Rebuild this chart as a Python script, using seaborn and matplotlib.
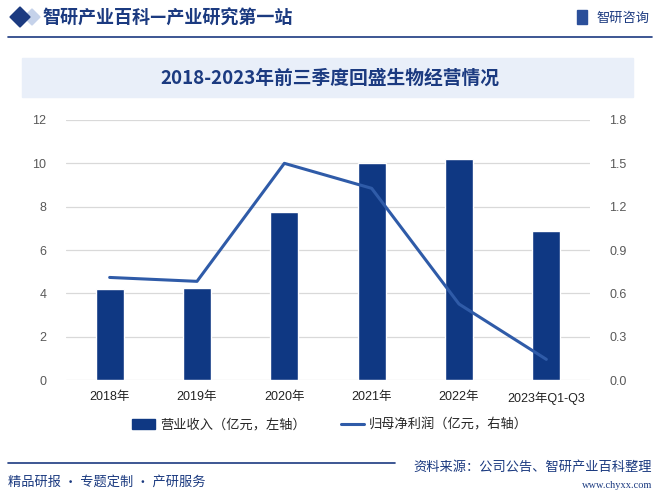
import matplotlib
matplotlib.use("Agg")
import matplotlib.pyplot as plt
import seaborn as sns
import pandas as pd
from matplotlib.patches import Rectangle, Polygon
from matplotlib.lines import Line2D

# 数据
years = ["2018年", "2019年", "2020年", "2021年", "2022年", "2023年Q1-Q3"]
revenue = [4.2, 4.25, 7.75, 10.0, 10.2, 6.88]      # 营业收入（亿元）
net_profit = [0.71, 0.683, 1.50, 1.327, 0.526, 0.143]  # 归母净利润（亿元）

left_ticks = [0, 2, 4, 6, 8, 10, 12]
right_ticks = [0.0, 0.3, 0.6, 0.9, 1.2, 1.5, 1.8]

bar_color = "#0f3883"
line_color = "#2f5ba8"
navy = "#1b3a80"
grey = "#595959"

sns.set_theme(style="white")
plt.rcParams['font.family'] = ['Liberation Sans', 'Noto Sans CJK SC', 'DejaVu Sans']
cjk = ['Noto Sans CJK SC', 'DejaVu Sans']

df = pd.DataFrame({"year": years, "revenue": revenue, "profit": net_profit})

fig = plt.figure(figsize=(6.61, 4.98), dpi=100)
W, H = 661, 498

def fx(x):
    return x / W

def fy(y):
    return 1 - y / H

# 页眉
fig.patches.append(Polygon([[fx(10), fy(17)], [fx(20), fy(7)], [fx(30), fy(17)], [fx(20), fy(27)]],
                           closed=True, transform=fig.transFigure, color=navy, zorder=2))
fig.patches.append(Polygon([[fx(24), fy(17)], [fx(32), fy(9)], [fx(40), fy(17)], [fx(32), fy(25)]],
                           closed=True, transform=fig.transFigure, color="#c5d2ea", zorder=1))
fig.text(fx(42), fy(18), "智研产业百科—产业研究第一站", fontsize=13, color=navy,
         fontweight="bold", family=cjk, ha="left", va="center", zorder=3)
fig.patches.append(Rectangle((fx(577), fy(24)), fx(10), 14 / H, transform=fig.transFigure,
                             color="#2b4f9a", zorder=2))
fig.text(fx(596), fy(18), "智研咨询", fontsize=9.5, color=navy, family=cjk,
         ha="left", va="center")
fig.lines.append(Line2D([fx(8), fx(652)], [fy(37), fy(37)], transform=fig.transFigure,
                        color=navy, lw=1.2))

# 标题框
fig.patches.append(Rectangle((fx(22), fy(97)), fx(611), 39 / H, transform=fig.transFigure,
                             color="#e9eff9", zorder=1))
fig.text(fx(330), fy(78), "2018-2023年前三季度回盛生物经营情况", fontsize=13.5, color=navy,
         fontweight="bold", family=cjk, ha="center", va="center", zorder=3)

# 图表
ax = fig.add_axes([fx(66), fy(380), fx(524), 260 / H])
sns.barplot(data=df, x="year", y="revenue", color=bar_color, width=0.32, saturation=1,
            ax=ax, zorder=2)
ax.set_ylim(0, 12)
ax.set_yticks(left_ticks)
ax.set_xlim(-0.5, len(years) - 0.5)
ax.grid(axis="y", color="#d9d9d9", lw=0.9, zorder=0)
ax.set_axisbelow(True)
for s in ax.spines.values():
    s.set_visible(False)
ax.set_xlabel("")
ax.set_ylabel("")
ax.tick_params(axis="y", length=0, labelsize=9, labelcolor=grey, pad=14)
ax.tick_params(axis="x", length=0, labelsize=9, labelcolor="#222222", pad=8)
ax.set_xticks([i + 0.5 for i in range(len(years) - 1)], minor=True)
ax.tick_params(axis="x", which="minor", length=5, color="#404040", width=0.8)
ax.patch.set_alpha(0)

ax2 = ax.twinx()
sns.lineplot(x=list(range(len(years))), y=net_profit, color=line_color, lw=2.2, sort=False,
             ax=ax2, zorder=3)
ax2.set_ylim(0, 1.8)
ax2.set_yticks(right_ticks)
ax2.set_yticklabels([f"{v:.1f}" for v in right_ticks])
ax2.set_xlim(-0.5, len(years) - 0.5)
for s in ax2.spines.values():
    s.set_visible(False)
ax2.tick_params(axis="y", length=0, labelsize=9, labelcolor=grey, pad=14)
ax2.grid(False)

# 图例
handles = [Rectangle((0, 0), 1, 1, color=bar_color),
           Line2D([0], [0], color=line_color, lw=2.2)]
fig.legend(handles, ["营业收入（亿元，左轴）", "归母净利润（亿元，右轴）"],
           loc="center", bbox_to_anchor=(fx(330), fy(425)), ncol=2, frameon=False,
           prop={"family": cjk, "size": 9.5}, handlelength=1.75, columnspacing=2.6,
           handletextpad=0.4)

# 页脚
fig.lines.append(Line2D([fx(8), fx(395)], [fy(463), fy(463)], transform=fig.transFigure,
                        color=navy, lw=1.2))
fig.text(fx(652), fy(467), "资料来源：公司公告、智研产业百科整理", fontsize=9.5, color=navy,
         family=cjk, ha="right", va="center")
fig.text(fx(8), fy(482), "精品研报 · 专题定制 · 产研服务", fontsize=9.5, color=navy,
         family=cjk, ha="left", va="center")
fig.text(fx(652), fy(485), "www.chyxx.com", fontsize=7.5, color=navy,
         family=["Liberation Serif", "DejaVu Serif"], ha="right", va="center")

fig.savefig("out.png", dpi=100)
